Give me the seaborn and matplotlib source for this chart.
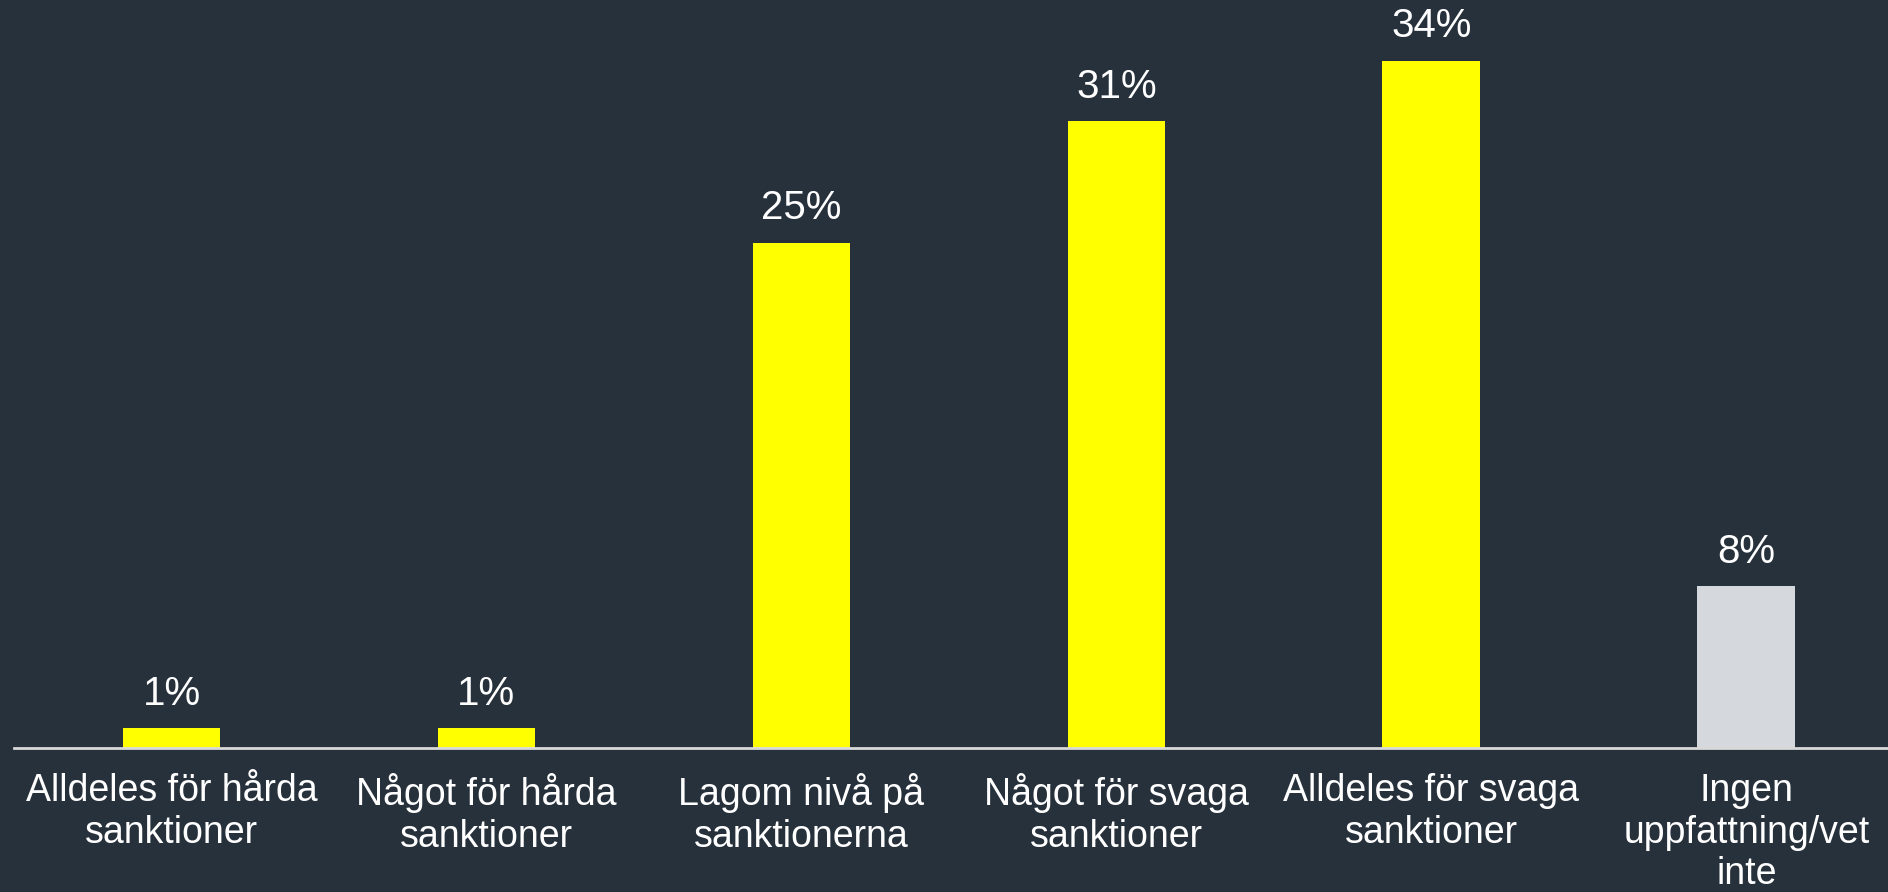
import seaborn as sns
import matplotlib.pyplot as plt
import pandas as pd

# Data
categories = [
    "Alldeles för hårda\nsanktioner",
    "Något för hårda\nsanktioner",
    "Lagom nivå på\nsanktionerna",
    "Något för svaga\nsanktioner",
    "Alldeles för svaga\nsanktioner",
    "Ingen\nuppfattning/vet\ninte",
]
values = [1, 1, 25, 31, 34, 8]
value_labels = ["1%", "1%", "25%", "31%", "34%", "8%"]
bar_colors = ["#FFFF00", "#FFFF00", "#FFFF00", "#FFFF00", "#FFFF00", "#D5D8DC"]

BG = "#27313C"

df = pd.DataFrame({"category": categories, "value": values})

sns.set_style("white")
plt.rcParams["font.family"] = ["Liberation Sans", "DejaVu Sans"]

fig = plt.figure(figsize=(18.88, 8.92), dpi=100, facecolor=BG)
ax = fig.add_axes([14 / 1888, 1 - 748 / 892, (1888 - 14) / 1888, 748 / 892])
ax.set_facecolor(BG)

sns.barplot(data=df, x="category", y="value", hue="category",
            palette=bar_colors, width=0.31, legend=False, ax=ax,
            saturation=1, edgecolor="none")

# value labels above the bars
for i, (v, lab) in enumerate(zip(values, value_labels)):
    ax.annotate(lab, (i, v), xytext=(0, 11), textcoords="offset points",
                ha="center", va="bottom", color="white", fontsize=29)

ax.set_ylim(0, 37)
ax.set_xlim(-0.5, 5.45)
ax.set_xlabel("")
ax.set_ylabel("")
ax.set_yticks([])
for s in ["top", "right", "left"]:
    ax.spines[s].set_visible(False)
ax.spines["bottom"].set_color("#D9D9D9")
ax.spines["bottom"].set_linewidth(2)
ax.tick_params(axis="x", length=0, pad=18, labelsize=27, labelcolor="white")
for t in ax.get_xticklabels():
    t.set_linespacing(1.2)

fig.savefig("out.png", dpi=100, facecolor=BG)
